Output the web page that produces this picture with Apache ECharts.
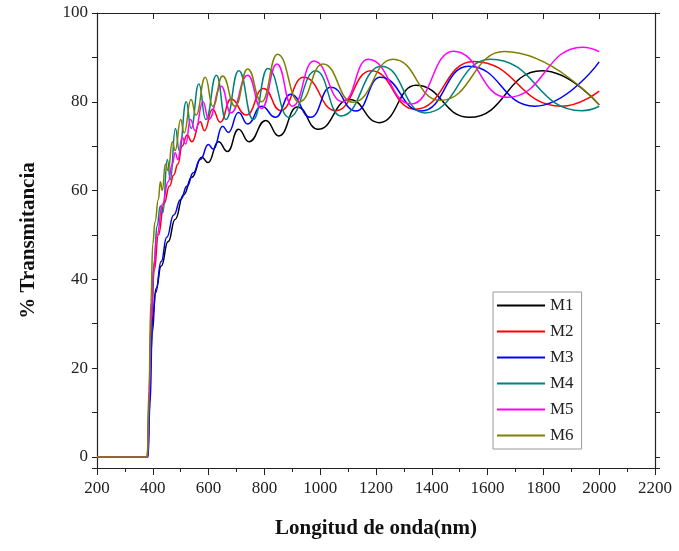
<!DOCTYPE html>
<html>
<head>
<meta charset="utf-8">
<script src="https://cdn.jsdelivr.net/npm/echarts@6/dist/echarts.min.js"></script>
<style>
html,body{margin:0;padding:0;background:#fff;}
#c{width:679px;height:551px;}
</style>
</head>
<body>
<div id="c"></div>
<script>
// Wavelength (nm) / transmittance (%) pairs
var seriesNames = ['M1','M2','M3','M4','M5','M6'];
var seriesColors = ['#000000','#ff0000','#0000ff','#008080','#ff00ff','#808000'];

var m1 = [[200,0],[380,0],[386,8],[392,22],[400,32],[412,38],[430,43],[455,48.5],[480,53.5],[510,59],[540,63],[575,67.5],[598,66.3],[635,71],[668,68.8],[707,73.8],[745,71],[805,75.8],[852,72.3],[918,78.8],[992,73.8],[1105,80.5],[1212,75.3],[1343,83.7],[1535,76.5],[1795,87],[2000,79.3]];
var m2 = [[200,0],[382,0],[388,12],[395,30],[405,42],[420,50],[440,57],[460,61],[475,63.5],[490,66],[505,70],[523,72.5],[540,71],[570,75.5],[585,73.5],[614,78.3],[642,75.4],[680,80.6],[735,77],[797,83],[858,78],[940,85.5],[1056,78],[1182,87],[1340,78.3],[1549,89.1],[1865,79],[2000,82.4]];
var m3 = [[200,0],[383,0],[390,12],[398,28],[410,37],[430,44],[450,49.5],[475,54.5],[500,58],[523,61],[545,64],[570,67],[599,70.4],[617,69.3],[650,74.5],[671,73.1],[707,77.6],[740,75],[790,79],[840,76.5],[894,81.7],[966,76.5],[1038,83.3],[1128,77.9],[1215,85.5],[1362,77.9],[1531,88],[1768,79],[2000,89]];
var m4 = [[200,0],[382,0],[388,15],[395,32],[405,44],[415,52],[427,56.5],[436,55],[452,67],[463,62.5],[481,74],[495,69],[520,80],[537,74],[565,84],[590,76],[628,86],[662,76],[708,87],[760,76],[812,87.5],[888,76.5],[984,87],[1074,76.8],[1220,88],[1375,77.5],[1610,89.6],[1937,78],[2000,79]];
var m5 = [[200,0],[380,0],[386,12],[393,30],[402,42],[415,50],[435,57],[455,62],[470,66],[480,68.5],[490,67],[505,72],[518,70.5],[535,76],[552,73.5],[580,80],[600,76],[645,83.5],[680,77.5],[740,86],[790,78.5],[845,88.5],[900,79],[977,89.2],[1081,80],[1171,89.6],[1326,79.5],[1477,91.4],[1670,81],[1940,92.3],[2000,91.3]];
var m6 = [[200,0],[380,0],[386,15],[393,35],[400,48],[408,53],[420,58],[427,62],[434,60],[445,66],[455,64.5],[470,71],[480,69],[500,76],[512,73],[537,80.5],[555,77],[588,85.5],[615,79],[650,85.8],[695,79],[740,87.4],[790,80],[847,90.7],[925,80],[1010,88.5],[1117,79.9],[1261,89.6],[1430,80.3],[1660,91.3],[2000,79.3]];
var allData = [m1,m2,m3,m4,m5,m6];

var xMin = 200, xMax = 2200, xStep = 200;
var yMin = -2.5, yMax = 100;

var font = 'Liberation Serif, Times New Roman, serif';
var chart = echarts.init(document.getElementById('c'), null, {renderer:'canvas'});

var series = allData.map(function(d, i){
  return {
    name: seriesNames[i], type: 'line', data: d, smooth: 0.5, smoothMonotone: 'x',
    showSymbol: false, symbol: 'none',
    lineStyle: {color: seriesColors[i], width: 1.5},
    itemStyle: {color: seriesColors[i]},
    emphasis: {disabled: true}, animation: false
  };
});

chart.setOption({
  animation: false,
  backgroundColor: '#ffffff',
  grid: {left: 97, right: 24, top: 13, bottom: 83, containLabel: false},
  legend: {
    orient: 'vertical', left: 493, top: 292,
    data: seriesNames,
    icon: 'rect', itemWidth: 48, itemHeight: 2, itemGap: 9,
    padding: [5, 8, 5, 4],
    borderColor: '#999', borderWidth: 1,
    textStyle: {fontFamily: font, fontSize: 17, color: '#222', lineHeight: 17}
  },
  xAxis: [{
    type: 'value', min: xMin, max: xMax, interval: xStep, position: 'bottom',
    name: 'Longitud de onda(nm)', nameLocation: 'middle', nameGap: 50,
    nameTextStyle: {fontFamily: font, fontSize: 21, fontWeight: 'bold', color: '#111'},
    axisLine: {show: true, onZero: false, lineStyle: {color: '#222', width: 1.2}},
    axisTick: {show: true, inside: false, length: 7, lineStyle: {color: '#222'}},
    minorTick: {show: true, splitNumber: 2, length: 4, lineStyle: {color: '#222'}},
    axisLabel: {fontFamily: font, fontSize: 17, color: '#222', margin: 12,
      formatter: function(v){ return String(v); }},
    splitLine: {show: false}
  },{
    type: 'value', min: xMin, max: xMax, interval: xStep, position: 'top',
    axisLine: {show: true, onZero: false, lineStyle: {color: '#222', width: 1.2}},
    axisTick: {show: true, inside: true, length: 6, lineStyle: {color: '#222'}},
    axisLabel: {show: false}, splitLine: {show: false}
  }],
  yAxis: [{
    type: 'value', min: yMin, max: yMax, splitNumber: 5, position: 'left',
    name: '% Transmitancia', nameLocation: 'middle', nameGap: 58,
    nameTextStyle: {fontFamily: font, fontSize: 21, fontWeight: 'bold', color: '#111'},
    axisLine: {show: true, onZero: false, lineStyle: {color: '#222', width: 1.2}},
    axisTick: {show: true, inside: false, length: 5, lineStyle: {color: '#222'}},
    minorTick: {show: true, splitNumber: 2, length: 5, lineStyle: {color: '#222'}},
    axisLabel: {fontFamily: font, fontSize: 17, color: '#222', margin: 9, showMinLabel: false,
      formatter: function(v){ return String(v); }},
    splitLine: {show: false}, minorSplitLine: {show: false}
  },{
    type: 'value', min: yMin, max: yMax, splitNumber: 5, position: 'right',
    axisLine: {show: true, onZero: false, lineStyle: {color: '#222', width: 1.2}},
    axisTick: {show: true, inside: false, length: 5, lineStyle: {color: '#222'}},
    minorTick: {show: true, splitNumber: 2, length: 5, lineStyle: {color: '#222'}},
    axisLabel: {show: false}, splitLine: {show: false}
  }],
  series: series
});
</script>
</body>
</html>
